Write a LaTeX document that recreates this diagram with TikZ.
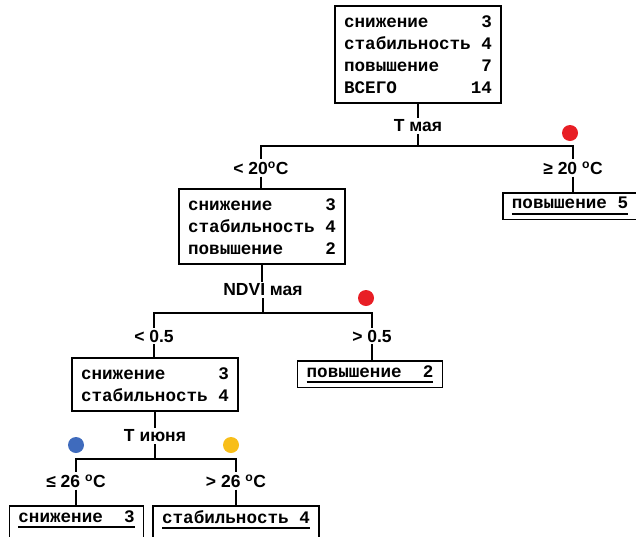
\documentclass[tikz,border=0pt]{standalone}
\usepackage{fontspec}
\setmainfont{Liberation Sans}
\setmonofont{Liberation Mono}
\usetikzlibrary{positioning}

\definecolor{voteRed}{RGB}{232,30,37}
\definecolor{voteBlue}{RGB}{63,107,189}
\definecolor{voteYellow}{RGB}{248,190,25}

\newcommand{\boxfont}{\ttfamily\bfseries\fontsize{17.6}{22}\selectfont}
\newcommand{\condfont}{\bfseries\fontsize{17.5}{21}\selectfont}
\newcommand{\dotsize}{16pt}
% leaf text with a heavy rule under it
\newcommand{\leaftext}[1]{\setbox0=\hbox{#1}\vtop{\hbox{\copy0}\kern3.5pt\hrule height 1.2pt depth 1.2pt width \wd0}}

\tikzset{
  box/.style={draw, line width=1.6pt, inner xsep=9pt, inner ysep=9.5pt, align=left, font=\boxfont, anchor=north},
  leaf/.style={box, inner ysep=4.5pt},
  cond/.style={font=\condfont, inner sep=2pt},
  link/.style={line width=1.6pt},
  vote/.style={circle, inner sep=0pt, minimum size=\dotsize}
}

\begin{document}
\begin{tikzpicture}[x=1pt, y=-1pt]
\clip (0,0) rectangle (636,536);

% root split on May temperature
\node[box] at (418,5) (root) {снижение~~~~~3\\стабильность~4\\повышение~~~~7\\ВСЕГО~~~~~~~14};
\node[cond] at (418,126) (tmay) {T мая};
\coordinate (bar1) at (418,146);
\node[cond] at (261,168) (lt20) {< 20\textsuperscript{o}C};
\node[cond] at (573,168) (ge20) {≥ 20 \textsuperscript{o}C};
\node[vote, fill=voteRed] at (570,133) (dotA) {};
\node[leaf] at (570,192) (leaf5) {\leaftext{повышение~5}};
\draw[link] (root.south) -- (tmay.north);
\draw[link] (tmay.south) -- (bar1) -| (lt20.north);
\draw[link] (bar1) -| (ge20.north);
\draw[link] (ge20.south) -- (ge20.south |- leaf5.north);

% second split on May NDVI
\node[box] at (262,188) (mid) {снижение~~~~~3\\стабильность~4\\повышение~~~~2};
\draw[link] (lt20.south) -- (lt20.south |- mid.north);
\node[cond] at (263,290) (ndvi) {NDVI мая};
\coordinate (bar2) at (263,313);
\node[cond] at (154,336) (lt05) {< 0.5};
\node[cond] at (372,336) (gt05) {> 0.5};
\node[vote, fill=voteRed] at (366,298) (dotB) {};
\node[leaf] at (370,360) (leaf2) {\leaftext{повышение~~2}};
\draw[link] (mid.south) -- (ndvi.north -| mid.south);
\draw[link] (ndvi.south) -- (bar2) -| (lt05.north);
\draw[link] (bar2) -| (gt05.north);
\draw[link] (gt05.south) -- (gt05.south |- leaf2.north);

% third split on June temperature
\node[box] at (155,357) (low) {снижение~~~~~3\\стабильность~4};
\draw[link] (lt05.south) -- (lt05.south |- low.north);
\node[cond] at (155,436) (tjune) {T июня};
\coordinate (bar3) at (155,459);
\node[cond] at (76,481) (le26) {≤ 26 \textsuperscript{o}C};
\node[cond] at (236,481) (gt26) {> 26 \textsuperscript{o}C};
\node[vote, fill=voteBlue] at (76,445) (dotC) {};
\node[vote, fill=voteYellow] at (231,445) (dotD) {};
\node[leaf, text depth=16pt] at (76.5,505) (leaf3) {\leaftext{снижение~~3}};
\node[leaf, text depth=16pt] at (236,505) (leaf4) {\leaftext{стабильность~4}};
\draw[link] (low.south) -- (tjune.north -| low.south);
\draw[link] (tjune.south) -- (bar3) -| (le26.north);
\draw[link] (bar3) -| (gt26.north);
\draw[link] (le26.south) -- (le26.south |- leaf3.north);
\draw[link] (gt26.south) -- (gt26.south |- leaf4.north);

\end{tikzpicture}
\end{document}
